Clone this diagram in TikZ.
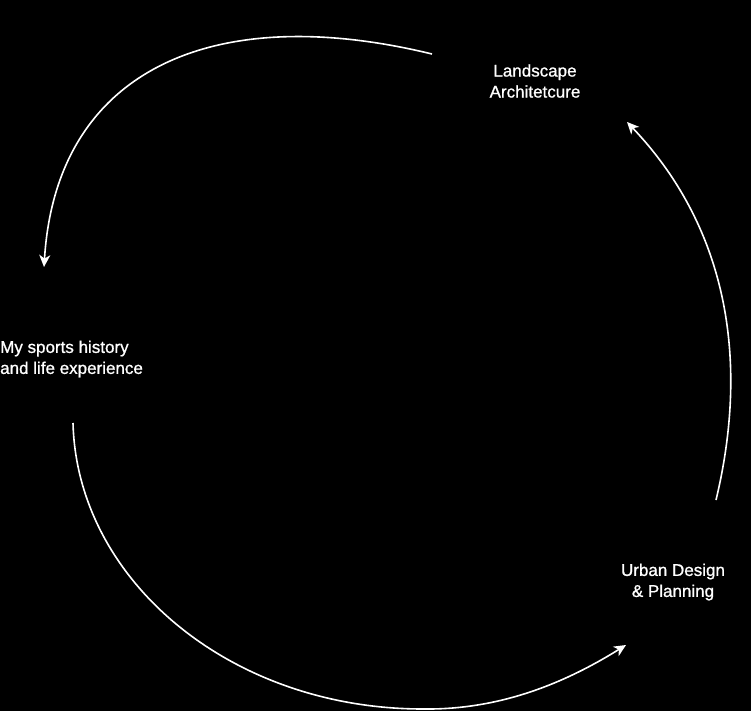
\documentclass[tikz,border=0pt]{standalone}
\usepackage{fontspec}
\setmainfont{Liberation Sans}
\newfontfamily\topicfont{Liberation Sans}[FakeBold=0.9]
\usetikzlibrary{arrows.meta,positioning}

\begin{document}
\begin{tikzpicture}[x=1pt, y=-1pt,
  topic/.style={text=white, inner sep=0pt, align=center, font=\topicfont\fontsize{17}{21}\selectfont},
  arcline/.style={draw=white, line width=1.6pt, -{Stealth[length=12pt,width=11pt,inset=3.5pt]}}]

\fill[black] (0,0) rectangle (751,711);
\useasboundingbox (0,0) rectangle (751,711);

\node[topic] (land) at (535,81) {Landscape\\Architetcure};
\node[topic, align=left, anchor=west] (sport) at (0,359) {My sports history\\and life experience};
\node[topic] (urban) at (673,582) {Urban Design\\\& Planning};

% free ends of the arcs
\coordinate (land-out) at (432,54);
\coordinate (sport-in) at (44,267);
\coordinate (sport-out) at (73,423);
\coordinate (bottom) at (423,709);
\coordinate (urban-in) at (626,645);
\coordinate (urban-out) at (716,500);
\coordinate (land-in) at (627,122);

\draw[arcline] (land-out) .. controls (210,0) and (56,72) .. (sport-in);
\draw[arcline] (sport-out) .. controls (77,580) and (230,709) .. (bottom)
  .. controls (500,710) and (565,683) .. (urban-in);
\draw[arcline] (urban-out) .. controls (751,354) and (724,224) .. (land-in);

\end{tikzpicture}
\end{document}
